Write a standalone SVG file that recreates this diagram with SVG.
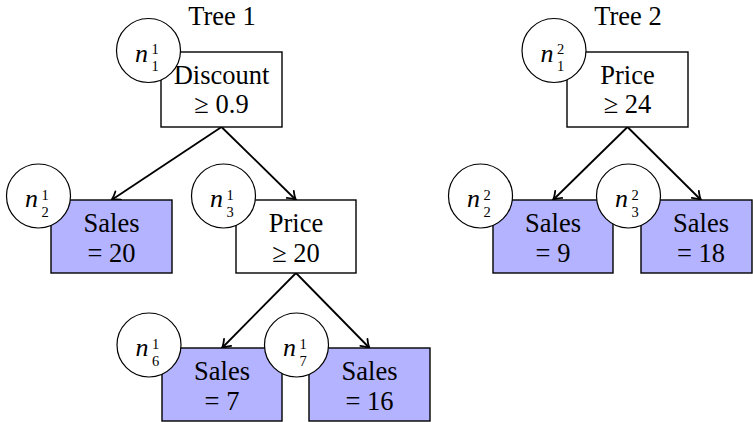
<svg xmlns="http://www.w3.org/2000/svg" width="753" height="422" viewBox="0 0 753 422">
<style>
.box{fill:#ffffff;stroke:#000;stroke-width:1.4}
.leaf{fill:#b3b3ff;stroke:#000;stroke-width:1.4}
.lab{fill:#fff;stroke:#000;stroke-width:1.2}
.t{font-size:26.5px;text-anchor:middle}
.n{font-size:26px;font-style:italic}
.s{font-size:14.5px}
.edge{stroke:#000;stroke-width:1.8;fill:none;marker-end:url(#ah)}
</style>
<defs>
<marker id="ah" markerUnits="userSpaceOnUse" markerWidth="14" markerHeight="14" viewBox="-10 -7 12 14" refX="0" refY="0" orient="auto">
<path d="M-8,-5 Q-3,-1 0,0 Q-3,1 -8,5" fill="none" stroke="#000" stroke-width="1.8" stroke-linecap="round"/>
</marker>
</defs>
<rect width="753" height="422" fill="#fff"/>
<g font-family="'Liberation Serif', 'DejaVu Serif', serif" fill="#000">
<g id="titles">
<text class="t" x="222" y="25">Tree 1</text>
<text class="t" x="628" y="25">Tree 2</text>
</g>
<g id="connectors">
<line class="edge" x1="221.5" y1="127" x2="111.5" y2="200"/>
<line class="edge" x1="221.5" y1="127" x2="296" y2="200"/>
<line class="edge" x1="296" y1="273" x2="222" y2="348"/>
<line class="edge" x1="296" y1="273" x2="369.5" y2="348"/>
<line class="edge" x1="627.5" y1="127" x2="553" y2="200"/>
<line class="edge" x1="627.5" y1="127" x2="701" y2="200"/>
</g>
<g id="t1n1">
<rect class="box" x="161" y="52" width="121" height="75"/>
<text class="t" x="221.5" y="84">Discount</text>
<text class="t" x="221.5" y="113">≥ 0.9</text>
<circle class="lab" cx="148.5" cy="50.5" r="32"/>
<text class="n" x="135" y="61.5">n</text>
<text class="s" x="151.5" y="54">1</text>
<text class="s" x="151.5" y="71">1</text>
</g>
<g id="t1n2">
<rect class="leaf" x="51" y="200" width="121" height="73"/>
<text class="t" x="111.5" y="232">Sales</text>
<text class="t" x="111.5" y="262">= 20</text>
<circle class="lab" cx="38.5" cy="196" r="32"/>
<text class="n" x="25" y="207">n</text>
<text class="s" x="41.5" y="199.5">1</text>
<text class="s" x="41.5" y="216.5">2</text>
</g>
<g id="t1n3">
<rect class="box" x="236" y="200" width="120" height="73"/>
<text class="t" x="296" y="232">Price</text>
<text class="t" x="296" y="262">≥ 20</text>
<circle class="lab" cx="223.5" cy="196" r="32"/>
<text class="n" x="210" y="207">n</text>
<text class="s" x="226.5" y="199.5">1</text>
<text class="s" x="226.5" y="216.5">3</text>
</g>
<g id="t1n6">
<rect class="leaf" x="162" y="348" width="120" height="73"/>
<text class="t" x="222" y="380">Sales</text>
<text class="t" x="222" y="410">= 7</text>
<circle class="lab" cx="149" cy="345" r="32"/>
<text class="n" x="135.5" y="356">n</text>
<text class="s" x="152" y="348.5">1</text>
<text class="s" x="152" y="365.5">6</text>
</g>
<g id="t1n7">
<rect class="leaf" x="309" y="348" width="121" height="73"/>
<text class="t" x="369.5" y="380">Sales</text>
<text class="t" x="369.5" y="410">= 16</text>
<circle class="lab" cx="296.5" cy="345" r="32"/>
<text class="n" x="283" y="356">n</text>
<text class="s" x="299.5" y="348.5">1</text>
<text class="s" x="299.5" y="365.5">7</text>
</g>
<g id="t2n1">
<rect class="box" x="567" y="52" width="121" height="75"/>
<text class="t" x="627.5" y="84">Price</text>
<text class="t" x="627.5" y="113">≥ 24</text>
<circle class="lab" cx="554" cy="50.5" r="32"/>
<text class="n" x="540.5" y="61.5">n</text>
<text class="s" x="557" y="54">2</text>
<text class="s" x="557" y="71">1</text>
</g>
<g id="t2n2">
<rect class="leaf" x="493" y="200" width="120" height="73"/>
<text class="t" x="553" y="232">Sales</text>
<text class="t" x="553" y="262">= 9</text>
<circle class="lab" cx="480.5" cy="196" r="32"/>
<text class="n" x="467" y="207">n</text>
<text class="s" x="483.5" y="199.5">2</text>
<text class="s" x="483.5" y="216.5">2</text>
</g>
<g id="t2n3">
<rect class="leaf" x="641" y="200" width="111" height="73"/>
<text class="t" x="701" y="232">Sales</text>
<text class="t" x="701" y="262">= 18</text>
<circle class="lab" cx="628.5" cy="196" r="32"/>
<text class="n" x="615" y="207">n</text>
<text class="s" x="631.5" y="199.5">2</text>
<text class="s" x="631.5" y="216.5">3</text>
</g>
</g>
</svg>
